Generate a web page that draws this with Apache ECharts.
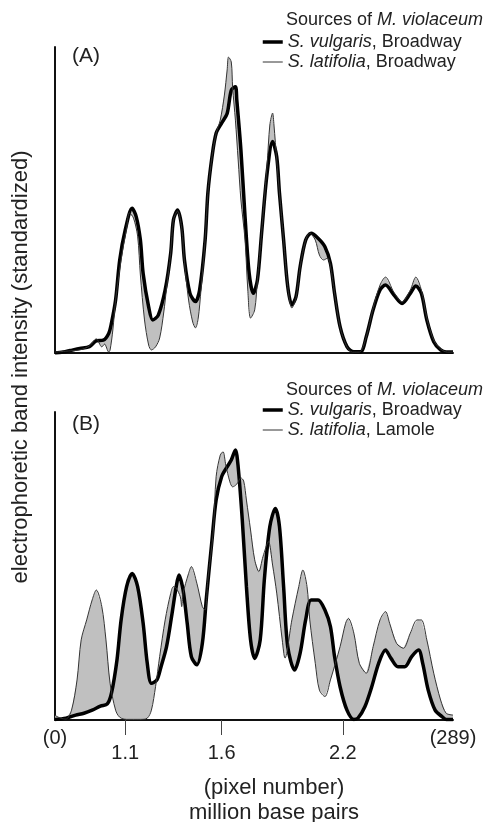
<!DOCTYPE html>
<html>
<head>
<meta charset="utf-8">
<script src="https://cdn.jsdelivr.net/npm/echarts@6.0.0/dist/echarts.min.js"></script>
<style>
  html, body { margin: 0; padding: 0; background: #fff; }
  #chart { width: 486px; height: 822px; }
</style>
</head>
<body>
<div id="chart"></div>
<script>
// densitometer traces, x = pixel number (0..289), y = standardized intensity (0..100)
var vulgarisA = [[0,0],[6,0.3],[11,0.8],[18,1.5],[25,2.1],[30,4.0],[35,4.2],[39,6.4],[41,9.8],[44,17.3],[47,30.4],[51,40.2],[56,47.3],[59,44.5],[62,36.9],[64,26.0],[68,15.1],[71,10.8],[75,12.4],[80,20.6],[84,32.6],[86,43.5],[89,46.7],[92,41.3],[94,30.4],[98,19.5],[102,16.8],[105,20.6],[109,36.9],[111,52.2],[114,64.1],[117,71.8],[121,75.1],[125,78.3],[128,85.9],[131,87.0],[132,82.7],[135,66.3],[138,44.5],[141,26.0],[144,19.5],[147,23.9],[150,39.1],[154,58.7],[158,69.1],[161,64.1],[163,52.2],[166,36.9],[169,21.7],[172,15.7],[175,18.4],[178,28.2],[182,36.9],[186,39.1],[191,37.5],[196,34.7],[200,29.3],[203,19.5],[207,8.6],[212,2.1],[217,0.4],[222,0.4],[226,5.3],[231,14.1],[236,20.6],[240,22.2],[246,19.0],[252,16.2],[258,19.5],[262,21.9],[266,19.5],[270,10.8],[275,3.7],[280,1.0],[284,0.3],[289,0.3]];
var latifoliaA = [[0,0.3],[11,0.7],[18,1.0],[25,2.3],[30,4.6],[34,2.0],[36,2.9],[39,0.3],[40,1.0],[42,7.5],[44,17.3],[48,30.4],[52,40.8],[54,45.8],[57,44.1],[60,38.2],[62,25.5],[65,10.8],[68,2.6],[70,1.0],[73,2.0],[76,4.9],[79,13.4],[81,21.2],[84,32.7],[86,43.5],[89,46.4],[92,40.8],[94,29.7],[97,17.3],[100,10.1],[102,8.2],[104,11.4],[106,20.6],[109,36.9],[111,52.2],[114,64.1],[117,71.8],[120,76.1],[123,84.3],[125,92.5],[126,96.7],[128,95.1],[129,86.6],[131,76.1],[133,63.1],[135,50.0],[138,36.9],[140,20.6],[142,11.4],[145,14.1],[147,23.9],[150,39.2],[154,61.4],[156,74.5],[158,78.4],[159,74.5],[161,63.1],[163,52.3],[166,36.9],[169,21.7],[172,14.7],[175,18.0],[178,28.1],[182,36.9],[185,39.2],[189,36.9],[192,32.0],[195,30.4],[198,31.0],[200,28.4],[203,19.6],[207,8.5],[212,2.0],[216,0.3],[221,0.3],[226,5.2],[231,14.7],[236,22.2],[240,24.8],[246,19.9],[252,16.7],[258,20.6],[262,24.8],[266,20.6],[270,11.4],[275,4.2],[280,1.3],[285,0.3],[289,0.3]];
var vulgarisB = [[0,0.2],[8,0.6],[15,1.6],[21,2.2],[27,3.2],[33,4.5],[38,5.2],[41,8.7],[45,19.5],[48,32.5],[52,43.3],[56,47.6],[60,43.3],[64,31.4],[67,18.4],[70,11.9],[74,13.0],[77,17.3],[81,23.8],[85,34.6],[88,43.3],[90,47.1],[93,42.2],[96,31.4],[99,20.6],[103,17.9],[107,24.9],[110,40.0],[114,58.4],[117,71.4],[121,79.0],[125,82.2],[128,84.4],[131,87.7],[133,82.2],[136,64.9],[139,43.3],[142,26.0],[145,20.0],[149,26.0],[152,45.5],[156,62.8],[160,68.7],[163,62.8],[166,43.3],[169,23.8],[174,16.2],[178,21.7],[182,32.5],[186,39.0],[191,39.0],[196,35.7],[200,30.3],[203,20.6],[207,10.8],[212,3.2],[217,0.2],[220,0.6],[225,4.3],[230,10.8],[235,18.4],[240,22.7],[244,20.0],[249,17.3],[254,17.3],[259,20.6],[264,22.7],[267,18.4],[271,9.7],[276,3.2],[281,1.1],[284,0.2],[289,0.2]];
var latifoliaB = [[0,1.5],[4,0.6],[8,0.3],[12,3.2],[16,13.0],[19,26.0],[23,32.5],[27,39.0],[30,42.2],[34,36.8],[37,26.0],[40,11.9],[44,3.2],[47,0.9],[52,0.2],[62,0.2],[67,0.6],[70,3.2],[73,10.8],[76,20.6],[80,32.5],[84,41.1],[86,43.3],[88,42.8],[91,40.0],[92,36.8],[93,41.1],[97,47.6],[99,49.8],[103,44.4],[107,36.8],[109,35.7],[111,45.5],[115,61.7],[117,79.0],[120,86.0],[122,87.1],[124,82.8],[127,77.3],[129,75.7],[132,76.6],[135,78.6],[137,77.6],[139,71.4],[142,61.7],[145,52.0],[148,48.2],[151,53.0],[155,57.9],[158,50.3],[161,41.2],[165,26.0],[167,20.1],[172,32.5],[177,43.3],[180,48.7],[183,43.3],[185,32.5],[189,18.4],[192,9.7],[196,7.6],[200,13.0],[207,23.8],[211,31.4],[213,33.0],[217,28.2],[221,18.4],[226,15.2],[231,23.8],[236,32.5],[240,35.2],[243,31.4],[248,24.9],[253,23.3],[258,28.2],[263,32.5],[266,32.5],[270,26.0],[275,15.2],[280,6.5],[284,2.2],[289,1.6]];

// x axis labels (pixel number -> million base pairs)
var tickPixels = [51, 121, 209];
var tickLabels = ['1.1', '1.6', '2.2'];
var endPixels = [0, 289];
var endLabels = ['(0)', '(289)'];

var FONT = '"Liberation Sans", Arial, sans-serif';
var TEXT = '#222';

function speciesLabel(name) {
    var i = name.indexOf(',');
    return '{i|' + name.slice(0, i) + '}' + name.slice(i);
}

// grey band between the two traces
function betweenFill(upper, lower) {
    return function (params, api) {
        var pts = [];
        for (var i = 0; i < upper.length; i++) pts.push(api.coord(upper[i]));
        for (var j = lower.length - 1; j >= 0; j--) pts.push(api.coord(lower[j]));
        return {
            type: 'polygon',
            shape: { points: pts },
            style: { fill: '#c0c0c0', stroke: null }
        };
    };
}

function plainAxis(grid) {
    return {
        type: 'value', gridIndex: grid, min: 0, max: 100,
        axisLine: { show: true, lineStyle: { color: '#111', width: 2 } },
        axisTick: { show: false }, axisLabel: { show: false }, splitLine: { show: false }
    };
}

function legendFor(top, names) {
    return {
        orient: 'vertical', left: 261, top: top, itemGap: 0,
        itemWidth: 20, itemHeight: 20, padding: 0,
        data: names, selectedMode: false,
        itemStyle: { opacity: 0 },
        lineStyle: { width: 'inherit' },
        formatter: speciesLabel,
        textStyle: {
            fontFamily: FONT, fontSize: 18, color: TEXT, lineHeight: 20,
            rich: { i: { fontFamily: FONT, fontSize: 18, fontStyle: 'italic', color: TEXT } }
        }
    };
}

function headerFor(top) {
    return {
        text: 'Sources of {i|M. violaceum}', left: 286, top: top, padding: 0,
        textStyle: {
            fontFamily: FONT, fontSize: 18, fontWeight: 'normal', color: TEXT, lineHeight: 20,
            rich: { i: { fontFamily: FONT, fontSize: 18, fontStyle: 'italic', color: TEXT } }
        }
    };
}

function panelTitle(text, top) {
    return {
        text: text, left: 72, top: top, padding: 0,
        textStyle: { fontFamily: FONT, fontSize: 21, fontWeight: 'normal', color: TEXT }
    };
}

function thick(name, data, idx) {
    return {
        name: name, type: 'line', data: data, xAxisIndex: idx, yAxisIndex: idx,
        smooth: 0.3, symbol: 'none', z: 3,
        lineStyle: { color: '#000', width: 3.5 }, itemStyle: { color: '#000' }
    };
}

function thin(name, data, idx) {
    return {
        name: name, type: 'line', data: data, xAxisIndex: idx, yAxisIndex: idx,
        smooth: 0.3, symbol: 'none', z: 4,
        lineStyle: { color: '#333', width: 1 }, itemStyle: { color: '#333' }
    };
}

var chart = echarts.init(document.getElementById('chart'), null, { renderer: 'canvas' });

chart.setOption({
    backgroundColor: '#fff',
    animation: false,
    title: [
        headerFor(10), panelTitle('(A)', 46),
        headerFor(380), panelTitle('(B)', 414)
    ],
    legend: [
        legendFor(32, ['S. vulgaris, Broadway', 'S. latifolia, Broadway']),
        legendFor(400, ['S. vulgaris, Broadway', 'S. latifolia, Lamole'])
    ],
    grid: [
        { left: 55, top: 47, width: 398, height: 306, outerBoundsMode: 'none' },
        { left: 55, top: 412, width: 398, height: 308, outerBoundsMode: 'none' }
    ],
    xAxis: [
        {
            type: 'value', gridIndex: 0, min: 0, max: 289,
            axisLine: { lineStyle: { color: '#111', width: 2 } },
            axisTick: { show: false }, axisLabel: { show: false }, splitLine: { show: false }
        },
        {
            type: 'value', gridIndex: 1, min: 0, max: 289, position: 'bottom',
            axisLine: { lineStyle: { color: '#111', width: 2 } },
            axisTick: { show: true, customValues: tickPixels, length: 15, lineStyle: { color: '#444', width: 1 } },
            axisLabel: {
                customValues: tickPixels, margin: 23,
                fontFamily: FONT, fontSize: 20, color: TEXT,
                formatter: function (v) { return tickLabels[tickPixels.indexOf(v)]; }
            },
            splitLine: { show: false },
            name: '(pixel number)\nmillion base pairs',
            nameLocation: 'middle', nameGap: 55,
            nameTextStyle: { fontFamily: FONT, fontSize: 22, color: TEXT, lineHeight: 25, padding: [0, 0, 0, 40] }
        },
        {
            type: 'value', gridIndex: 1, min: 0, max: 289, position: 'bottom', offset: 0,
            axisLine: { show: false }, axisTick: { show: false },
            axisLabel: {
                customValues: endPixels, margin: 8,
                fontFamily: FONT, fontSize: 20, color: TEXT,
                formatter: function (v) { return endLabels[endPixels.indexOf(v)]; }
            },
            splitLine: { show: false }
        }
    ],
    yAxis: [plainAxis(0), plainAxis(1)],
    graphic: [{
        type: 'text', x: 21, y: 367, rotation: Math.PI / 2,
        style: {
            text: 'electrophoretic band intensity (standardized)',
            font: '22px ' + FONT, fill: TEXT, align: 'center', verticalAlign: 'middle'
        }
    }],
    series: [
        { type: 'custom', name: 'fillA', xAxisIndex: 0, yAxisIndex: 0, z: 1, data: [[0, 0]], renderItem: betweenFill(vulgarisA, latifoliaA) },
        thick('S. vulgaris, Broadway', vulgarisA, 0),
        thin('S. latifolia, Broadway', latifoliaA, 0),
        { type: 'custom', name: 'fillB', xAxisIndex: 1, yAxisIndex: 1, z: 1, data: [[0, 0]], renderItem: betweenFill(vulgarisB, latifoliaB) },
        thick('S. vulgaris, Broadway', vulgarisB, 1),
        thin('S. latifolia, Lamole', latifoliaB, 1)
    ]
});
</script>
</body>
</html>
